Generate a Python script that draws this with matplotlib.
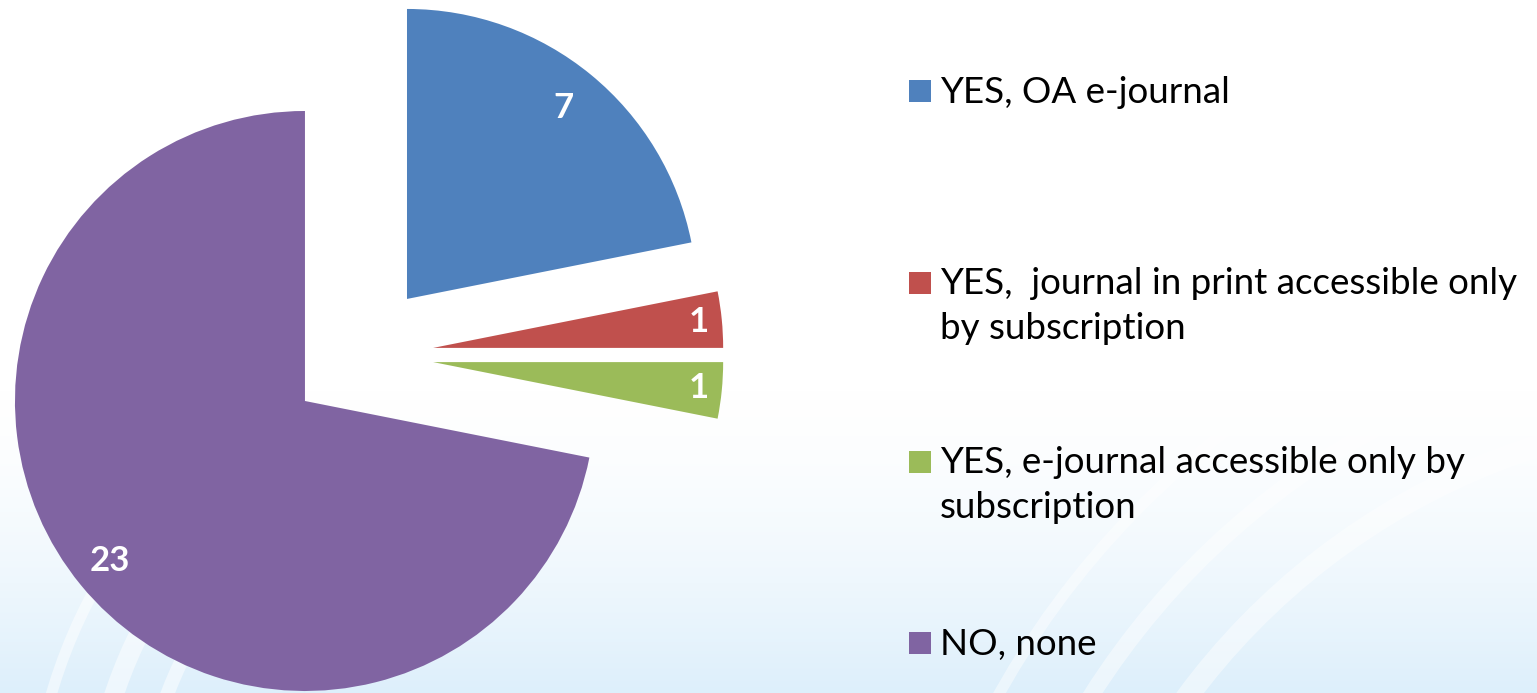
import numpy as np
import matplotlib
matplotlib.use('Agg')
import matplotlib.pyplot as plt
from matplotlib.patches import Rectangle, Arc

labels = ['YES, OA e-journal',
          'YES,  journal in print accessible only\nby subscription',
          'YES, e-journal accessible only by\nsubscription',
          'NO, none']
values = [7, 1, 1, 23]
colors = ['#4F81BD', '#C0504D', '#9BBB59', '#8064A2']
label_dist = [0.85, 0.92, 0.92, 0.87]

W, H = 1537, 693
fig = plt.figure(figsize=(W / 100, H / 100), dpi=100)

# background: white fading to light blue at the bottom, with faint swooshes
bg = fig.add_axes([0, 0, 1, 1])
bg.set_axis_off()
yy = np.linspace(0, 1, 300)[:, None]
a = np.clip((0.45 - yy) / 0.45, 0, 1) ** 1.6
img = np.ones((300, 2, 4))
img[..., 0] = 0.87
img[..., 1] = 0.94
img[..., 2] = 0.985
img[..., 3] = a
bg.imshow(np.ones((2, 2, 3)), extent=[0, W, 0, H], aspect='auto')
bg.imshow(img, extent=[0, W, 0, H], aspect='auto', origin='lower')
for rr, lw in [(420, 10), (470, 14), (530, 8)]:
    bg.add_patch(Arc((560, -150), 2 * rr, 2 * rr, theta1=110, theta2=175,
                     color='white', lw=lw, alpha=0.5))
for rr, lw in [(700, 16), (780, 12), (860, 8)]:
    bg.add_patch(Arc((1750, -420), 2 * rr, 2 * rr, theta1=95, theta2=160,
                     color='white', lw=lw, alpha=0.45))
bg.set_xlim(0, W)
bg.set_ylim(0, H)

ax = fig.add_axes([0, 0, 1, 1])
ax.patch.set_alpha(0)
cx, cy, r = 361, H - 355, 290
wedges, _ = ax.pie(values, colors=colors, startangle=90, counterclock=False,
                   explode=[0.25 * r] * 4, radius=r, center=(cx, cy),
                   wedgeprops=dict(linewidth=0))
ax.set_xlim(0, W)
ax.set_ylim(0, H)
ax.set_aspect('auto')
ax.set_axis_off()

for w, v, d in zip(wedges, values, label_dist):
    ang = np.deg2rad((w.theta1 + w.theta2) / 2)
    x = w.center[0] + d * w.r * np.cos(ang)
    y = w.center[1] + d * w.r * np.sin(ang)
    ax.text(x, y, str(v), color='white', fontsize=25, fontweight='bold',
            ha='center', va='center', family='Lato')

# legend (first-line baselines in pixels from top)
leg_base = [103, 295, 474, 655]
line_gap = 44
for lab, c, b in zip(labels, colors, leg_base):
    ax.add_patch(Rectangle((909, H - b + 1), 22, 22, color=c, lw=0))
    last = b + line_gap * lab.count('\n')
    ax.text(940, H - last, lab, fontsize=26.5, family='Lato', color='black',
            ha='left', va='baseline', linespacing=1.43)

fig.savefig('out.png', dpi=100)
